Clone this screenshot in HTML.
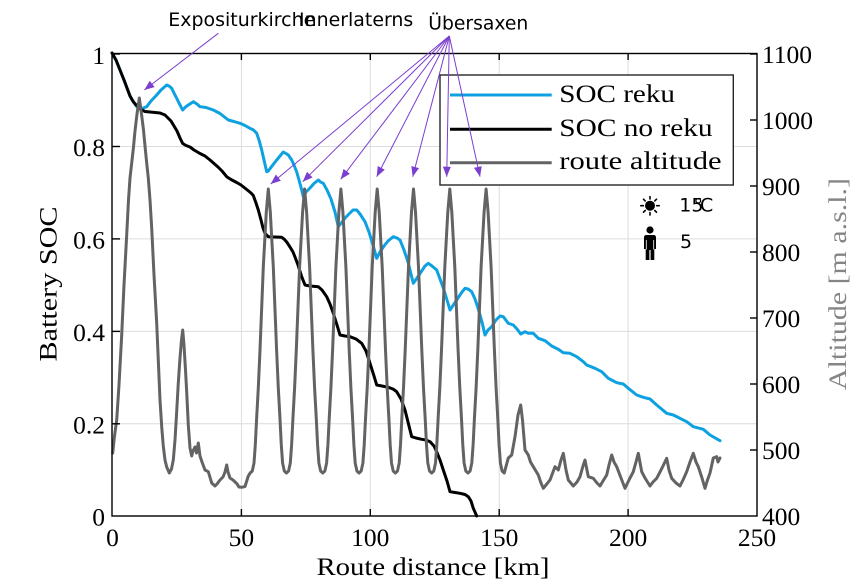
<!DOCTYPE html>
<html>
<head>
<meta charset="utf-8">
<style>
html,body{margin:0;padding:0;background:#fff;}
svg{display:block;}
.tk{font-family:"Liberation Serif",serif;font-size:25.5px;fill:#000;}
.lg{font-family:"Liberation Serif",serif;font-size:25px;fill:#000;}
.an{font-family:"DejaVu Sans","Liberation Sans",sans-serif;font-size:19px;fill:#000;}
</style>
</head>
<body>
<svg width="855" height="585" viewBox="0 0 855 585" xmlns="http://www.w3.org/2000/svg">
<defs>
<marker id="ah" viewBox="0 0 10 8" refX="10" refY="4" markerWidth="10" markerHeight="8" markerUnits="userSpaceOnUse" orient="auto">
<path d="M0,0 L10,4 L0,8 Z" fill="#7b3fcf"/>
</marker>
</defs>
<rect width="855" height="585" fill="#fff"/>

<!-- grid -->
<g stroke="#dcdcdc" stroke-width="1">
<line x1="241.4" y1="54" x2="241.4" y2="516"/>
<line x1="370.3" y1="54" x2="370.3" y2="516"/>
<line x1="499.2" y1="54" x2="499.2" y2="516"/>
<line x1="628.1" y1="54" x2="628.1" y2="516"/>
<line x1="112" y1="146.5" x2="757" y2="146.5"/>
<line x1="112" y1="238.9" x2="757" y2="238.9"/>
<line x1="112" y1="331.4" x2="757" y2="331.4"/>
<line x1="112" y1="423.8" x2="757" y2="423.8"/>
</g>

<!-- SOC reku -->
<path fill="none" stroke="#0ea1e2" stroke-width="3" stroke-linejoin="round" stroke-linecap="round" d="M112,53 L116,60 L120,70 L124,80 L127,88 L130,96 L133.3,101.7 L136,105.5 L138.3,108.5 L142,108.5 L146.7,106.7 L151,101 L156.7,95 L161,90 L166.7,85 L169,86 L171.7,88.3 L174,93 L176.7,98.3 L179.5,104 L182.7,110 L185.5,107 L188.3,105 L193.3,101.7 L197,104 L200,106.7 L206,107.5 L213.3,110 L220,113.5 L228.3,120 L234,121.5 L240,123.3 L245,125.5 L250,128.3 L253.5,130 L256.7,133.3 L259,140 L261.7,150 L264,160 L266.7,171.7 L268.3,171 L272,166 L276.7,160 L280,156 L283.3,152 L286,153.5 L288.3,155 L291.7,160 L294,165 L296.7,172 L299,180 L301.7,190 L303.3,196.7 L306,192 L310,188 L314,183.5 L318.3,180 L320.5,182 L323.3,183.3 L327,190 L331,199 L335,212 L338.3,226.7 L342,222 L346,217 L350,213 L353,210 L356.7,210 L360,214 L365,221.7 L369,232 L373,245 L376.7,258.3 L380,252 L384,246 L388,241 L393.3,236.7 L397,238 L400,240 L404,250 L408,262 L411,274 L413.3,283.3 L417,278 L421,272 L425,266 L428.3,263.3 L432,266 L436.7,270 L440,279 L444,290 L447,300 L450,310 L454,304 L458,298 L462,292 L465,288.3 L468,289 L471.7,291.7 L475,299 L478,308 L482,322 L485,335 L488,330 L491.7,326.7 L496,320 L500,316 L503.3,316.7 L508.3,323.3 L513.3,325 L517,329 L520.7,334 L525,331.7 L528.3,333.3 L533.3,333.3 L538.3,338.3 L545,340.7 L551.7,346 L558.3,349.3 L563.3,352.7 L570,353.3 L576.7,356.7 L583.3,361.7 L586.7,365 L595,368.3 L601.7,371.7 L608.3,378.3 L616.7,382.7 L623.3,384 L628.3,388.3 L636.7,395 L643.3,397.3 L650,399 L656.7,405 L666.7,413.3 L673.3,415 L686.7,421.7 L693.3,426.7 L703.3,429.3 L710,435 L720,440.7"/>

<!-- SOC no reku -->
<path fill="none" stroke="#000" stroke-width="3" stroke-linejoin="round" stroke-linecap="round" d="M112,53 L116,60 L120,70 L124,80 L127,88 L130,96 L133.3,101.7 L137,106 L140,109 L145,111.5 L150,112 L160,113 L165,115 L168,118 L171,121 L174,126 L177,131 L180,138 L182.7,143.5 L186,145.5 L190,147 L194,150 L200,153.5 L205,156 L210,160 L214,163.5 L218,167 L222,171 L226.7,176.7 L231,179.5 L236.7,182.5 L241,185 L246.7,189.5 L251,193 L253.3,195.5 L256,203 L258.3,210 L261,220 L263,228 L265,233.3 L268.3,236.7 L275,237 L281.7,237.3 L284,239 L286.7,242 L290,247 L293,252 L295,257 L298,265 L301.7,276.7 L305,285 L310,286 L318.3,286.7 L322,290 L326.7,296.7 L330,304 L333.3,313.3 L337,325 L340,335 L345,336 L350,336.7 L356,339 L361.7,343.3 L366,351 L370,363.3 L374,376 L376.7,385 L382,386 L388.3,387.3 L393,389 L396.7,391.7 L401,399 L405,410 L408,422 L411.7,436.7 L416,438 L421.7,439.3 L426,440 L430,441.7 L434,446 L436.7,451.7 L440,460 L443.3,470 L447,481 L450,491.7 L455,492.5 L460,493.3 L465,494.5 L468.3,496.7 L471,501 L473.3,508.3 L476.7,516"/>

<!-- route altitude -->
<path fill="none" stroke="#636366" stroke-width="3" stroke-linejoin="round" stroke-linecap="round" d="M112.7,453 L114.5,436 L116.7,420 L119,385 L121.7,335 L124,285 L126.7,235 L128.5,200 L130,178 L131.7,163 L133.5,147 L135,131 L137,114 L139.3,98 L141.5,114 L143.5,130 L145,146 L146.7,163 L148.3,178 L150,200 L151.7,228 L154,275 L156.7,323 L158.5,365 L160,400 L161.8,428 L163.3,446 L165,460 L166.7,467 L169.3,473 L171.5,469 L173.3,460 L175,440 L176.5,415 L178.3,383 L180,358 L181.5,340 L182.7,330 L184,345 L185.5,370 L186.7,392 L188.3,425 L190,448 L191.7,456 L193,451 L195,447 L196.5,453 L198.3,443 L200,456 L202,462 L205,470 L208.3,471.7 L211.7,483 L215,486 L217,484 L220,480 L223,477 L225,472 L226.7,465 L228,472 L230,478 L233,480 L236.7,483.5 L239,487 L241.7,487.3 L245,486.5 L248.3,476 L250.15,473
l2.15,-2 l1.7,-8 l1.3,-18 l1.4,-28 l1.6,-29 l1.7,-38 l3.3,-83 l3,-55 l2,-23 l2,23 l3,55 l3.3,83 l1.7,38 l1.6,29 l1.4,28 l1.3,18 l1.7,8 l2.15,2
l2.15,-2 l1.7,-8 l1.3,-18 l1.4,-28 l1.6,-29 l1.7,-38 l3.3,-83 l3,-55 l2,-23 l2,23 l3,55 l3.3,83 l1.7,38 l1.6,29 l1.4,28 l1.3,18 l1.7,8 l2.15,2
l2.15,-2 l1.7,-8 l1.3,-18 l1.4,-28 l1.6,-29 l1.7,-38 l3.3,-83 l3,-55 l2,-23 l2,23 l3,55 l3.3,83 l1.7,38 l1.6,29 l1.4,28 l1.3,18 l1.7,8 l2.15,2
l2.15,-2 l1.7,-8 l1.3,-18 l1.4,-28 l1.6,-29 l1.7,-38 l3.3,-83 l3,-55 l2,-23 l2,23 l3,55 l3.3,83 l1.7,38 l1.6,29 l1.4,28 l1.3,18 l1.7,8 l2.15,2
l2.15,-2 l1.7,-8 l1.3,-18 l1.4,-28 l1.6,-29 l1.7,-38 l3.3,-83 l3,-55 l2,-23 l2,23 l3,55 l3.3,83 l1.7,38 l1.6,29 l1.4,28 l1.3,18 l1.7,8 l2.15,2
l2.15,-2 l1.7,-8 l1.3,-18 l1.4,-28 l1.6,-29 l1.7,-38 l3.3,-83 l3,-55 l2,-23 l2,23 l3,55 l3.3,83 l1.7,38 l1.6,29 l1.4,28 l1.3,18 l1.7,8 l2.15,2
l2.15,-2 l1.7,-8 l1.3,-18 l1.4,-28 l1.6,-29 l1.7,-38 l3.3,-83 l3,-55 l2,-23 l2,23 l3,55 l3.3,83 l1.7,38 l1.6,29 l1.4,28 l1.3,18 l1.7,8 l2.15,2
L508.3,458 L511.7,455 L515,436.7 L518,415 L520.7,405 L522.5,420 L525,450 L528.3,455 L530.5,462 L533.3,466.7 L538.3,475 L541,483 L543.3,488.3 L546,485 L550,480 L555,466.7 L558.3,470 L561,460 L563.3,453.3 L566,470 L568.3,480 L573.3,486 L577,482 L580,476.7 L583,466 L585,460 L588.3,476.7 L593.3,478.3 L597,483 L600,486 L603,481 L606.7,475 L609,465 L611.7,455 L614,462 L616.7,466.7 L621,478 L625,488.3 L629,480 L633.3,471.7 L636,462 L638.3,453.3 L641.7,471.7 L645,478 L650,486 L653,482 L656.7,478.3 L660,472 L663,466 L666.7,458.3 L669,470 L671.7,478.3 L676,483 L680,486 L683,480 L686.7,471.7 L690,462 L693.3,453.3 L696,462 L698.3,466.7 L702,478 L705,488.3 L707.5,480 L710,473 L713.3,458 L716.7,456.7 L718,462 L720,458"/>

<!-- axes box -->
<rect x="112" y="53.5" width="645" height="462.5" fill="none" stroke="#000" stroke-width="1.4"/>
<g stroke="#000" stroke-width="1.4">
<!-- bottom ticks -->
<line x1="241.4" y1="516" x2="241.4" y2="509"/>
<line x1="370.3" y1="516" x2="370.3" y2="509"/>
<line x1="499.2" y1="516" x2="499.2" y2="509"/>
<line x1="628.1" y1="516" x2="628.1" y2="509"/>
<!-- top ticks -->
<line x1="241.4" y1="53.5" x2="241.4" y2="60"/>
<line x1="370.3" y1="53.5" x2="370.3" y2="60"/>
<line x1="499.2" y1="53.5" x2="499.2" y2="60"/>
<line x1="628.1" y1="53.5" x2="628.1" y2="60"/>
<!-- left ticks -->
<line x1="112" y1="54" x2="120" y2="54"/>
<line x1="112" y1="146.5" x2="120" y2="146.5"/>
<line x1="112" y1="238.9" x2="120" y2="238.9"/>
<line x1="112" y1="331.4" x2="120" y2="331.4"/>
<line x1="112" y1="423.8" x2="120" y2="423.8"/>
<!-- right ticks -->
<line x1="757" y1="54" x2="750" y2="54"/>
<line x1="757" y1="120" x2="750" y2="120"/>
<line x1="757" y1="186" x2="750" y2="186"/>
<line x1="757" y1="252" x2="750" y2="252"/>
<line x1="757" y1="318" x2="750" y2="318"/>
<line x1="757" y1="384" x2="750" y2="384"/>
<line x1="757" y1="450" x2="750" y2="450"/>
</g>

<!-- left tick labels -->
<g class="tk" text-anchor="end">
<text x="105" y="64">1</text>
<text x="105" y="156">0.8</text>
<text x="105" y="248.5">0.6</text>
<text x="105" y="341">0.4</text>
<text x="105" y="433.5">0.2</text>
<text x="105" y="525.5">0</text>
</g>
<!-- right tick labels -->
<g class="tk" text-anchor="start">
<text x="762" y="63">1100</text>
<text x="762" y="129">1000</text>
<text x="762" y="195">900</text>
<text x="762" y="261">800</text>
<text x="762" y="327">700</text>
<text x="762" y="393">600</text>
<text x="762" y="459">500</text>
<text x="762" y="525">400</text>
</g>
<!-- bottom tick labels -->
<g class="tk" text-anchor="middle">
<text x="112.5" y="546">0</text>
<text x="241.4" y="546">50</text>
<text x="370.3" y="546">100</text>
<text x="499.2" y="546">150</text>
<text x="628.1" y="546">200</text>
<text x="757" y="546">250</text>
</g>

<!-- axis labels -->
<text class="tk" x="316.5" y="575" textLength="233" lengthAdjust="spacingAndGlyphs">Route distance [km]</text>
<text class="tk" transform="translate(56.5,284) rotate(-90)" text-anchor="middle" textLength="155" lengthAdjust="spacingAndGlyphs">Battery SOC</text>
<text class="tk" transform="translate(846,284) rotate(-90)" text-anchor="middle" textLength="212" lengthAdjust="spacingAndGlyphs" style="fill:#858585">Altitude [m a.s.l.]</text>

<!-- legend -->
<rect x="440" y="75" width="293.3" height="110" fill="#fff" stroke="#262626" stroke-width="1.4"/>
<line x1="450" y1="95" x2="551.7" y2="95" stroke="#0ea1e2" stroke-width="3"/>
<line x1="450" y1="129.3" x2="551.7" y2="129.3" stroke="#000" stroke-width="3"/>
<line x1="450" y1="162.7" x2="551.7" y2="162.7" stroke="#636366" stroke-width="3"/>
<text class="lg" x="559.3" y="102" textLength="115.7" lengthAdjust="spacingAndGlyphs">SOC reku</text>
<text class="lg" x="559.3" y="136" textLength="153.3" lengthAdjust="spacingAndGlyphs">SOC no reku</text>
<text class="lg" x="559.3" y="169" textLength="162.3" lengthAdjust="spacingAndGlyphs">route altitude</text>

<!-- arrows -->
<g stroke="#7b3fcf" stroke-width="1" fill="none" marker-end="url(#ah)">
<line x1="218.3" y1="33.3" x2="144.3" y2="90"/>
<line x1="449.3" y1="36" x2="270.7" y2="184"/>
<line x1="449.3" y1="36" x2="302.7" y2="181.7"/>
<line x1="449.3" y1="36" x2="340.7" y2="179.3"/>
<line x1="449.3" y1="36" x2="376.7" y2="176.7"/>
<line x1="449.3" y1="36" x2="412.7" y2="176.7"/>
<line x1="449.3" y1="36" x2="446.7" y2="176.7"/>
<line x1="449.3" y1="36" x2="480" y2="176.7"/>
</g>

<!-- annotation text -->
<text class="an" x="168.3" y="26" textLength="147" lengthAdjust="spacingAndGlyphs">Expositurkirche</text>
<text class="an" x="299" y="26" textLength="114.3" lengthAdjust="spacingAndGlyphs">Innerlaterns</text>
<text class="an" x="428.3" y="29.3" textLength="100" lengthAdjust="spacingAndGlyphs">Übersaxen</text>

<!-- sun icon -->
<g stroke="#000" stroke-width="1.6" stroke-linecap="round">
<line x1="650" y1="196.5" x2="650" y2="199"/>
<line x1="650" y1="212.5" x2="650" y2="215"/>
<line x1="640.8" y1="205.7" x2="643.3" y2="205.7"/>
<line x1="656.7" y1="205.7" x2="659.2" y2="205.7"/>
<line x1="643.5" y1="199.2" x2="645.2" y2="200.9"/>
<line x1="654.8" y1="210.5" x2="656.5" y2="212.2"/>
<line x1="656.5" y1="199.2" x2="654.8" y2="200.9"/>
<line x1="645.2" y1="210.5" x2="643.5" y2="212.2"/>
</g>
<circle cx="650" cy="205.7" r="5" fill="#000"/>
<text class="an" x="679.3" y="211.5">15</text>
<text class="an" x="693.5" y="211.5">°</text>
<text class="an" x="700" y="211.5">C</text>

<!-- person icon -->
<circle cx="650" cy="230" r="3.6" fill="#000"/>
<path d="M644,237.5 Q644,235 646.5,235 L653.5,235 Q656,235 656,237.5 L656,249 L654.3,249 L654.3,260 L650.6,260 L650.6,250 L649.4,250 L649.4,260 L645.7,260 L645.7,249 L644,249 Z" fill="#000"/>
<line x1="646.3" y1="240" x2="646.3" y2="249.5" stroke="#fff" stroke-width="0.8"/>
<line x1="653.7" y1="240" x2="653.7" y2="249.5" stroke="#fff" stroke-width="0.8"/>
<text class="an" x="680" y="248">5</text>
</svg>
</body>
</html>
